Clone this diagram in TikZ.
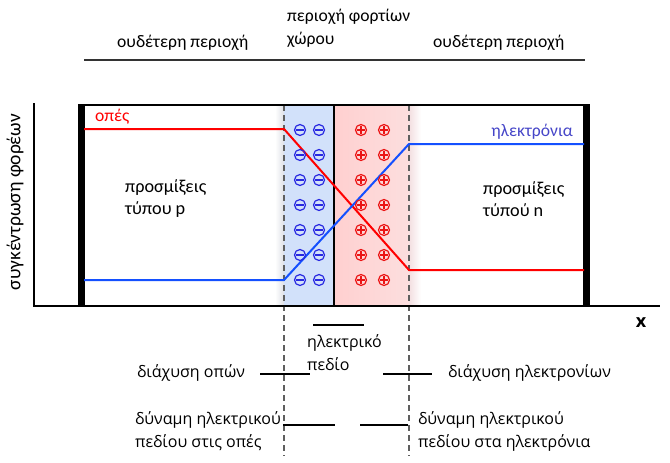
\documentclass[tikz,border=0pt]{standalone}
\usepackage{fontspec}
\setmainfont{Carlito}
\newfontfamily\lblfont{Open Sans}
\definecolor{holered}{RGB}{255,0,0}
\definecolor{elecblue}{RGB}{20,80,255}
\definecolor{minusblue}{RGB}{40,40,225}
\definecolor{plusred}{RGB}{235,20,20}
\definecolor{blueshade}{RGB}{210,225,250}
\definecolor{pinkA}{RGB}{255,208,208}
\definecolor{pinkB}{RGB}{252,222,222}
\definecolor{grayshade}{RGB}{222,224,230}
\definecolor{elabel}{RGB}{70,70,200}
\definecolor{dashgray}{RGB}{95,95,95}
\tikzset{
  txt/.style={font=\fontsize{17.6}{23}\selectfont, inner sep=0pt, anchor=west, align=left},
  btxt/.style={font=\lblfont\fontsize{16}{23}\selectfont, inner sep=0pt, anchor=west, align=left},
  negcharge/.style={circle, draw=minusblue, line width=1.2pt, minimum size=11pt, inner sep=0pt,
    path picture={\draw[minusblue, line width=1.2pt] ([xshift=-3.6pt]path picture bounding box.center) -- ([xshift=3.6pt]path picture bounding box.center);}},
  poscharge/.style={circle, draw=plusred, line width=1.2pt, minimum size=11pt, inner sep=0pt,
    path picture={\draw[plusred, line width=1.2pt] ([xshift=-3.6pt]path picture bounding box.center) -- ([xshift=3.6pt]path picture bounding box.center)
      ([yshift=-3.6pt]path picture bounding box.center) -- ([yshift=3.6pt]path picture bounding box.center);}},
  pointer/.style={line width=1.6pt, black},
  guide/.style={dashgray, line width=1.4pt, dash pattern=on 6pt off 4pt},
  curve/.style={line width=2pt}
}
\begin{document}
\begin{tikzpicture}[x=1pt,y=-1pt]
\useasboundingbox (0,0) rectangle (670,463);
% shaded regions
\shade[left color=white, right color=grayshade] (275,105) rectangle (284,305);
\fill[blueshade] (284,105) rectangle (333,305);
\shade[left color=pinkA, right color=pinkB] (335,105) rectangle (409,305);
\shade[left color=pinkB!70!grayshade, right color=white] (409,105) rectangle (421,305);
% top header
\node[txt] (nl) at (117,43) {ουδέτερη περιοχή};
\node[txt, anchor=north west] (sc) at (287,9) {περιοχή φορτίων\\χώρου};
\node[txt] (nr) at (433,43) {ουδέτερη περιοχή};
\draw[line width=1.6pt, black!80] (84,60) coordinate (h1) -- (585,60) coordinate (h2);
% dashed guides
\draw[guide] (284,105) coordinate (d1) -- (284,456) coordinate (d1e);
\draw[guide] (409,105) coordinate (d2) -- (409,456) coordinate (d2e);
% junction line
\draw[line width=1.6pt] (334,105) coordinate (j1) -- (334,305) coordinate (j2);
% frame
\draw[line width=2.6pt] (80,105) coordinate (f1) -- (588,105) coordinate (f2);
\draw[line width=7pt] (81.5,104) -- (81.5,306);
\draw[line width=7pt] (586,104) -- (586,306);
% axes
\draw[line width=2.6pt] (34,103) coordinate (ay) -- (34,306) coordinate (o) -- (660,306) coordinate (ax);
\node[font=\lblfont\bfseries\fontsize{18}{18}\selectfont, inner sep=0pt] (xl) at (641,323) {x};
\node[txt, rotate=90, anchor=center, font=\fontsize{19.5}{22}\selectfont] (yl) at (15,202) {συγκέντρωση φορέων};
% carrier curves
\draw[curve, holered] (84,129) coordinate (r0) -- (284,129) coordinate (r1) -- (409,270) coordinate (r2) -- (584,270) coordinate (r3);
\draw[curve, elecblue] (84,280) coordinate (b0) -- (284,280) coordinate (b1) -- (409,144) coordinate (b2) -- (584,144) coordinate (b3);
% charges
\foreach \i [count=\k] in {130,155,180,205,230,255,280}{
  \node[negcharge] (m1\k) at (300,\i) {};
  \node[negcharge] (m2\k) at (319,\i) {};
  \node[poscharge] (p1\k) at (361,\i) {};
  \node[poscharge] (p2\k) at (384,\i) {};
}
% labels inside
\node[txt, holered] (holes) at (95,117) {οπές};
\node[txt, elabel, anchor=east] (elec) at (573,132) {ηλεκτρόνια};
\node[txt, font=\fontsize{18.2}{22}\selectfont] (pt) at (125,199) {προσμίξεις\\τύπου p};
\node[txt, font=\fontsize{18.2}{22}\selectfont] (nt) at (483,199) {προσμίξεις\\τύπού n};
% bottom
\node[btxt] (ef) at (307,353) {ηλεκτρικό\\πεδίο};
\draw[pointer] (313,325) coordinate (e1) -- (364,325) coordinate (e2);
\node[btxt] (dh) at (137,373) {διάχυση οπών};
\draw[pointer] (260,374) coordinate (dh1) -- (310,374) coordinate (dh2);
\node[btxt] (de) at (448,373) {διάχυση ηλεκτρονίων};
\draw[pointer] (383,374) coordinate (de1) -- (432,374) coordinate (de2);
\node[btxt] (fh) at (135,431) {δύναμη ηλεκτρικού\\πεδίου στις οπές};
\draw[pointer] (283,425) coordinate (fh1) -- (335,425) coordinate (fh2);
\node[btxt] (fe) at (418,431) {δύναμη ηλεκτρικού\\πεδίου στα ηλεκτρόνια};
\draw[pointer] (360,425) coordinate (fe1) -- (408,425) coordinate (fe2);
\end{tikzpicture}
\end{document}
